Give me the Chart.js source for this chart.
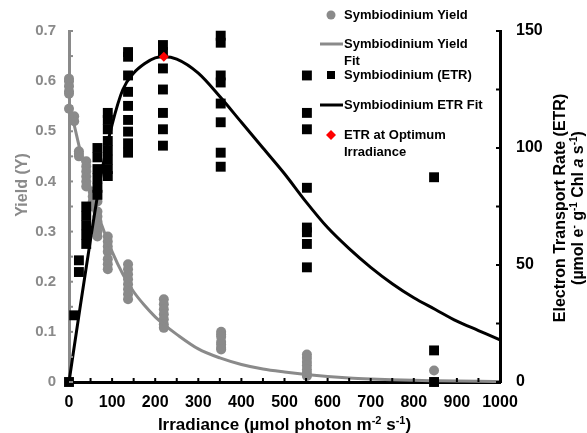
<!DOCTYPE html>
<html lang="en">
<head>
<meta charset="UTF-8">
<title>Symbiodinium yield and ETR vs irradiance</title>
<script src="https://cdn.jsdelivr.net/npm/chart.js@4.4.0/dist/chart.umd.min.js"></script>
<style>
  body { margin: 0; background: #fff; }
  #wrap { width: 587px; height: 433px; position: relative; }
</style>
</head>
<body>
<div id="wrap"><canvas id="myChart"></canvas></div>
<script>
// effective quantum yield, grouped by irradiance level (µmol photon m-2 s-1)
const yieldIrr = [0, 12, 23, 40, 55, 66, 90, 137, 220, 353, 552, 847];
const yieldVals = [
  [0.605, 0.6, 0.59, 0.58, 0.575, 0.545],
  [0.53, 0.52],
  [0.46, 0.455, 0.45],
  [0.44, 0.43, 0.42, 0.41, 0.40, 0.39],
  [0.38, 0.37, 0.36, 0.35],
  [0.36, 0.34, 0.33, 0.32, 0.31, 0.30, 0.29],
  [0.29, 0.28, 0.27, 0.26, 0.245, 0.235, 0.225],
  [0.235, 0.225, 0.215, 0.205, 0.195, 0.185, 0.175, 0.165],
  [0.165, 0.155, 0.145, 0.135, 0.125, 0.115, 0.108],
  [0.1, 0.095, 0.09, 0.08, 0.075, 0.068, 0.065],
  [0.055, 0.048, 0.04, 0.033, 0.025, 0.018, 0.012],
  [0.023, 0]
];

// electron transport rate, grouped the same way
const etrIrr = [0, 12, 23, 40, 66, 90, 137, 218, 352, 552, 847];
const etrVals = [
  [0],
  [28.5],
  [52, 47],
  [75, 71, 67, 63, 59],
  [100, 96, 91, 87, 83, 80],
  [115, 112, 108, 103, 99, 95, 91, 88],
  [141, 139, 131, 124, 118, 112, 107, 102, 98],
  [144, 141, 134, 125, 115, 108, 101],
  [148, 145, 131, 128, 119, 111, 98, 92],
  [131, 115, 108, 83, 66, 64, 59, 49],
  [87.5, 13.5, 0]
];

// fitted curves
const fitIrr = [0, 10, 25, 50, 75, 100, 125, 150, 175, 200, 220, 250, 300, 350, 400, 450, 500, 550, 600, 650, 700, 750, 800, 850, 900, 950, 1000];
const yieldFit = [0.55, 0.52, 0.465, 0.385, 0.315, 0.26, 0.215, 0.18, 0.153, 0.13, 0.115, 0.095, 0.066, 0.048, 0.035, 0.026, 0.02, 0.015, 0.011, 0.008, 0.006, 0.0045, 0.0033, 0.0025, 0.0018, 0.0013, 0.001];
const etrFit = [0, 12.5, 31, 61, 89, 110, 125, 132, 136, 138.5, 139, 138, 132, 122, 111, 100, 89, 77, 66, 57, 49, 42, 36, 31, 26, 22, 18];

// optimum irradiance point
const optIrr = [220];
const optEtr = [139];

const GREY = '#8a8a8a';
const FONT = '"Liberation Sans", Arial, sans-serif';
Chart.defaults.font.family = FONT;

function groups(xs, vals) {
  const out = [];
  xs.forEach((x, i) => vals[i].forEach(v => out.push({x: x, y: v})));
  return out;
}
function pairs(xs, ys) {
  return xs.map((x, i) => ({x: x, y: ys[i]}));
}

// superscript-aware text, centred on x
function richText(ctx, parts, x, y, size) {
  const font = (p) => (p.it ? 'italic ' : '') + 'bold ' + (p.sup ? Math.round(size * 0.62) : size) + 'px ' + FONT;
  let w = 0;
  parts.forEach(p => { ctx.font = font(p); w += ctx.measureText(p.t).width; });
  let cx = x - w / 2;
  ctx.textAlign = 'left';
  ctx.textBaseline = 'alphabetic';
  parts.forEach(p => {
    ctx.font = font(p);
    ctx.fillText(p.t, cx, p.sup ? y - size * 0.38 : y);
    cx += ctx.measureText(p.t).width;
  });
}

const extras = {
  id: 'extras',
  afterDraw(chart) {
    const {ctx, chartArea: a} = chart;
    const sx = chart.scales.x, sy = chart.scales.y, sy2 = chart.scales.y2;
    ctx.save();

    // inward tick marks
    ctx.lineWidth = 2;
    ctx.strokeStyle = '#000';
    for (let v = 0; v <= 1000; v += 50) {
      const px = sx.getPixelForValue(v);
      ctx.beginPath(); ctx.moveTo(px, a.bottom); ctx.lineTo(px, a.bottom - 4); ctx.stroke();
    }
    for (let v = 0; v <= 150; v += 25) {
      const py = sy2.getPixelForValue(v);
      ctx.beginPath(); ctx.moveTo(a.right, py); ctx.lineTo(a.right - 4, py); ctx.stroke();
    }
    ctx.strokeStyle = GREY;
    for (let i = 0; i <= 14; i++) {
      const py = sy.getPixelForValue(i * 0.05);
      ctx.beginPath(); ctx.moveTo(a.left, py); ctx.lineTo(a.left + 4, py); ctx.stroke();
    }

    // axis titles
    ctx.fillStyle = '#000';
    richText(ctx, [
      {t: 'Irradiance (µmol photon m'}, {t: '-2', sup: true},
      {t: ' s'}, {t: '-1', sup: true}, {t: ')'}
    ], (a.left + a.right) / 2, 430, 17);

    ctx.save();
    ctx.translate(27, 185);
    ctx.rotate(-Math.PI / 2);
    ctx.fillStyle = GREY;
    richText(ctx, [{t: 'Yield (Y)'}], 0, 0, 16);
    ctx.restore();

    ctx.save();
    ctx.translate(565, 208);
    ctx.rotate(-Math.PI / 2);
    richText(ctx, [{t: 'Electron Transport Rate (ETR)'}], 0, 0, 16);
    ctx.translate(0, 18);
    richText(ctx, [
      {t: '(µmol e'}, {t: '-', sup: true}, {t: ' g'}, {t: '-1', sup: true},
      {t: ' Chl '}, {t: 'a', it: true}, {t: ' s'}, {t: '-1', sup: true}, {t: ')'}
    ], 0, 0, 16);
    ctx.restore();

    // legend
    const ds = chart.data.datasets;
    const rows = [
      {d: ds[0], kind: 'dot', y: 15, text: ['Symbiodinium Yield']},
      {d: ds[1], kind: 'line', y: 44, text: ['Symbiodinium Yield', 'Fit']},
      {d: ds[2], kind: 'square', y: 75, text: ['Symbiodinium (ETR)']},
      {d: ds[3], kind: 'line', y: 105, text: ['Symbiodinium ETR Fit']},
      {d: ds[4], kind: 'diamond', y: 135, text: ['ETR at Optimum', 'Irradiance']}
    ];
    rows.forEach(r => {
      const mx = 331;
      if (r.kind === 'line') {
        ctx.strokeStyle = r.d.borderColor;
        ctx.lineWidth = 3;
        ctx.beginPath(); ctx.moveTo(320, r.y); ctx.lineTo(343, r.y); ctx.stroke();
      } else {
        ctx.fillStyle = r.d.backgroundColor;
        ctx.beginPath();
        if (r.kind === 'dot') ctx.arc(mx, r.y, 4.5, 0, Math.PI * 2);
        if (r.kind === 'square') ctx.rect(mx - 4, r.y - 4, 8, 8);
        if (r.kind === 'diamond') {
          ctx.moveTo(mx, r.y - 5); ctx.lineTo(mx + 5, r.y); ctx.lineTo(mx, r.y + 5); ctx.lineTo(mx - 5, r.y);
          ctx.closePath();
        }
        ctx.fill();
      }
      ctx.fillStyle = '#000';
      ctx.font = 'bold 13px ' + FONT;
      ctx.textAlign = 'left';
      ctx.textBaseline = 'middle';
      r.text.forEach((t, i) => ctx.fillText(t, 344, r.y + i * 17));
    });

    ctx.restore();
  }
};

new Chart(document.getElementById('myChart'), {
  type: 'scatter',
  data: {
    datasets: [
      {
        label: 'Symbiodinium Yield',
        data: groups(yieldIrr, yieldVals),
        yAxisID: 'y',
        pointStyle: 'circle',
        pointRadius: 5,
        borderWidth: 0,
        backgroundColor: GREY,
        order: 5
      },
      {
        label: 'Symbiodinium Yield Fit',
        data: pairs(fitIrr, yieldFit),
        yAxisID: 'y',
        showLine: true,
        pointRadius: 0,
        borderColor: GREY,
        backgroundColor: GREY,
        borderWidth: 3,
        cubicInterpolationMode: 'monotone',
        order: 4
      },
      {
        label: 'Symbiodinium (ETR)',
        data: groups(etrIrr, etrVals),
        yAxisID: 'y2',
        pointStyle: 'rect',
        pointRadius: 7,
        borderWidth: 0,
        backgroundColor: '#000',
        order: 3
      },
      {
        label: 'Symbiodinium ETR Fit',
        data: pairs(fitIrr, etrFit),
        yAxisID: 'y2',
        showLine: true,
        pointRadius: 0,
        borderColor: '#000',
        backgroundColor: '#000',
        borderWidth: 3,
        cubicInterpolationMode: 'monotone',
        order: 2
      },
      {
        label: 'ETR at Optimum Irradiance',
        data: pairs(optIrr, optEtr),
        yAxisID: 'y2',
        pointStyle: 'rectRot',
        pointRadius: 5,
        borderWidth: 0,
        backgroundColor: '#ff0000',
        order: 1
      }
    ]
  },
  plugins: [extras],
  options: {
    responsive: true,
    maintainAspectRatio: false,
    animation: false,
    events: [],
    clip: false,
    layout: { padding: { top: 31, left: 0, right: 0, bottom: 0 } },
    plugins: { legend: { display: false }, tooltip: { enabled: false } },
    scales: {
      x: {
        type: 'linear', min: 0, max: 1000,
        ticks: { stepSize: 100, color: '#000', font: { size: 16, weight: 'bold' }, padding: 11, maxRotation: 0,
                 callback: (v) => String(v) },
        grid: { display: false, drawTicks: false },
        border: { color: '#000', width: 3 },
        afterFit: (s) => { s.height = 51; }
      },
      y: {
        position: 'left', min: 0, max: 0.7,
        ticks: { stepSize: 0.1, color: GREY, font: { size: 15, weight: 'bold' }, padding: 13 },
        grid: { display: false, drawTicks: false },
        border: { color: GREY, width: 3 },
        afterFit: (s) => { s.width = 69; }
      },
      y2: {
        position: 'right', min: 0, max: 150,
        ticks: { stepSize: 50, color: '#000', font: { size: 16, weight: 'bold' }, padding: 16 },
        grid: { display: false, drawTicks: false },
        border: { color: '#000', width: 3 },
        afterFit: (s) => { s.width = 87; }
      }
    }
  }
});
</script>
</body>
</html>
